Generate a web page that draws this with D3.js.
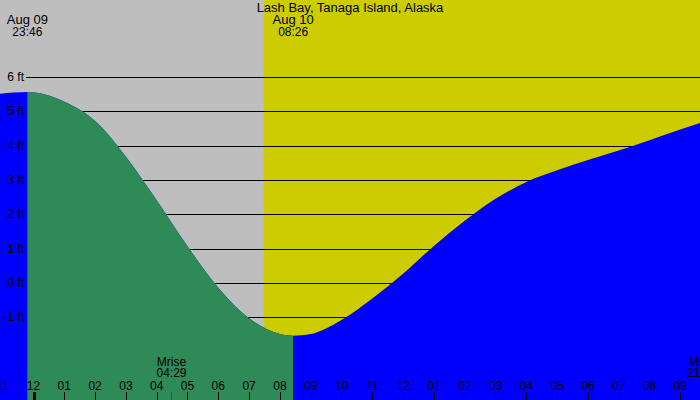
<!DOCTYPE html>
<html>
<head>
<meta charset="utf-8">
<script src="https://cdn.jsdelivr.net/npm/d3@7"></script>
<style>
    body { margin: 0; background: #fff; }
    svg { display: block; font-family: "Liberation Sans", Arial, sans-serif; }
</style>
</head>
<body>
<svg id="chart" width="700" height="400"></svg>
<script>
// hours from midnight Aug 10, tide height in feet
const tideTimes = [-1.1, -0.2, 1, 2, 3, 4, 5, 6, 7, 8, 8.43, 9, 10, 11, 12, 13, 14, 15, 16, 17, 18, 19, 20, 21, 21.7];
const tideFeet = [5.51, 5.56, 5.28, 4.72, 3.68, 2.41, 1.07, -0.14, -1.03, -1.49, -1.54, -1.49, -1.08, -0.45, 0.27, 1.08, 1.81, 2.45, 2.94, 3.28, 3.58, 3.86, 4.16, 4.47, 4.68];

const feetTicks = [-1, 0, 1, 2, 3, 4, 5, 6];

const hourTimes = [-1, 0, 1, 2, 3, 4, 5, 6, 7, 8, 9, 10, 11, 12, 13, 14, 15, 16, 17, 18, 19, 20, 21];
const hourLabels = ['11', '12', '01', '02', '03', '04', '05', '06', '07', '08', '09', '10', '11',
    '12', '01', '02', '03', '04', '05', '06', '07', '08', '09'];

// high / low tide markers at the top
const extremeTimes = [-0.2, 8.43];
const extremeDates = ['Aug 09', 'Aug 10'];
const extremeClocks = ['23:46', '08:26'];

const sunriseTime = 7.47;

const moonTimes = [4.48, 21.7];
const moonNames = ['Mrise', 'Mset'];
const moonClocks = ['04:29', '21:42'];

const width = 700, height = 400;

const x = d3.scaleLinear()
    .domain([0, 21])
    .range([33.5, 680.3]);

const y = d3.scaleLinear()
    .domain([-1, 6])
    .range([317.3, 77]);

const svg = d3.select('#chart');

// night / day background
svg.append('rect')
    .attr('x', 0).attr('y', 0)
    .attr('width', width).attr('height', height)
    .attr('fill', '#bebebe');

svg.append('rect')
    .attr('x', x(sunriseTime)).attr('y', 0)
    .attr('width', width - x(sunriseTime)).attr('height', height)
    .attr('fill', '#cccc00');

// grid lines
svg.append('g')
    .selectAll('line')
    .data(feetTicks)
    .enter().append('line')
    .attr('x1', 26).attr('x2', width)
    .attr('y1', d => Math.round(y(d)) + 0.5)
    .attr('y2', d => Math.round(y(d)) + 0.5)
    .attr('stroke', '#000')
    .attr('stroke-width', 1);

const tide = tideTimes.map((t, i) => [t, tideFeet[i]]);

const area = d3.area()
    .x(d => x(d[0]))
    .y0(height)
    .y1(d => y(d[1]))
    .curve(d3.curveMonotoneX);

svg.append('path')
    .datum(tide)
    .attr('d', area)
    .attr('fill', '#0000ff');

svg.append('clipPath')
    .attr('id', 'falling')
    .append('rect')
    .attr('x', x(extremeTimes[0]))
    .attr('y', 0)
    .attr('width', x(extremeTimes[1]) - x(extremeTimes[0]))
    .attr('height', height);

svg.append('path')
    .datum(tide)
    .attr('d', area)
    .attr('fill', '#2e8b57')
    .attr('clip-path', 'url(#falling)');

// feet labels
svg.append('g')
    .selectAll('text')
    .data(feetTicks)
    .enter().append('text')
    .attr('x', 24)
    .attr('y', d => y(d) + 4)
    .attr('text-anchor', 'end')
    .attr('font-size', 12)
    .text(d => d + ' ft');

// title
svg.append('text')
    .attr('x', 350).attr('y', 12)
    .attr('text-anchor', 'middle')
    .attr('font-size', 13)
    .text('Lash Bay, Tanaga Island, Alaska');

// high / low labels
const ext = svg.append('g')
    .selectAll('g')
    .data(extremeTimes)
    .enter().append('g');

ext.append('text')
    .attr('x', d => x(d))
    .attr('y', 24)
    .attr('text-anchor', 'middle')
    .attr('font-size', 13)
    .text((d, i) => extremeDates[i]);

ext.append('text')
    .attr('x', d => x(d))
    .attr('y', 36)
    .attr('text-anchor', 'middle')
    .attr('font-size', 12)
    .text((d, i) => extremeClocks[i]);

// hour axis
const hours = svg.append('g')
    .selectAll('g')
    .data(hourTimes)
    .enter().append('g');

hours.append('text')
    .attr('x', d => x(d))
    .attr('y', 390)
    .attr('text-anchor', 'middle')
    .attr('font-size', 12)
    .text((d, i) => hourLabels[i]);

hours.filter(d => d >= 0)
    .append('line')
    .attr('x1', d => Math.round(x(d)) + 0.5)
    .attr('x2', d => Math.round(x(d)) + 0.5)
    .attr('y1', 392).attr('y2', height)
    .attr('stroke', '#000')
    .attr('stroke-width', d => d === 0 ? 3 : 1);

// moon rise / set
const moon = svg.append('g')
    .selectAll('g')
    .data(moonTimes)
    .enter().append('g');

moon.append('text')
    .attr('x', d => x(d))
    .attr('y', 366)
    .attr('text-anchor', 'middle')
    .attr('font-size', 12)
    .text((d, i) => moonNames[i]);

moon.append('text')
    .attr('x', d => x(d))
    .attr('y', 377)
    .attr('text-anchor', 'middle')
    .attr('font-size', 12)
    .text((d, i) => moonClocks[i]);

moon.append('line')
    .attr('x1', d => Math.round(x(d)) + 0.5)
    .attr('x2', d => Math.round(x(d)) + 0.5)
    .attr('y1', 392).attr('y2', height)
    .attr('stroke', '#ff0000')
    .attr('stroke-width', 1);
</script>
</body>
</html>
